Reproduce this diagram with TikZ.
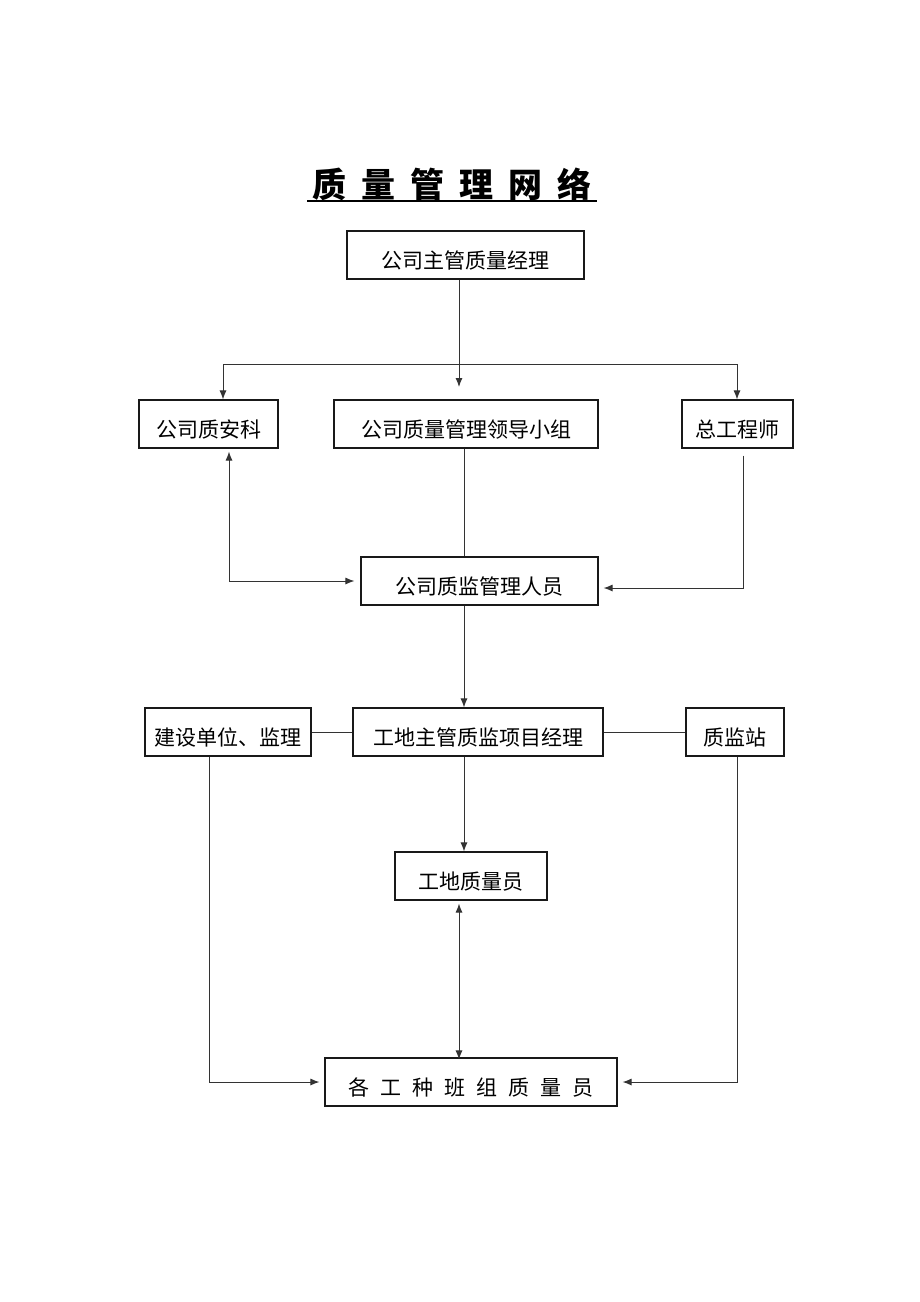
\documentclass[tikz,border=0pt]{standalone}
\usepackage{fontspec}
\setmainfont{Noto Sans CJK SC}
\usetikzlibrary{arrows.meta,calc}
\tikzset{>={Latex[length=9pt,width=7pt]}}
\newcommand{\tgap}{\hspace{15pt}}
\newcommand{\fgap}{\hspace{11pt}}

\begin{document}
\begin{tikzpicture}[x=1pt,y=-1pt]
        % pixel grid of the page, y grows downwards
        \tikzstyle{box}=[draw=black!90, line width=1.1pt, inner sep=0pt, minimum height=48pt, text height=29pt, text depth=2pt, font=\fontsize{21}{24}\selectfont]
        \tikzstyle{link}=[black!80, line width=1pt]
        \useasboundingbox (0,0) rectangle (920,1302);
        \node[inner sep=0pt, font=\bfseries\fontsize{34}{40}\selectfont] (title) at (452,184) {质\tgap 量\tgap 管\tgap 理\tgap 网\tgap 络};
        \draw[line width=1.6pt] (307,201) -- (597,201);
        \node[box, minimum width=237pt] (A) at (465.5,255) {公司主管质量经理};
        \node[box, minimum width=139pt] (B1) at (208.5,424) {公司质安科};
        \node[box, minimum width=264pt] (B2) at (466,424) {公司质量管理领导小组};
        \node[box, minimum width=111pt] (B3) at (737.5,424) {总工程师};
        \node[box, minimum width=237pt] (C) at (479.5,581) {公司质监管理人员};
        \node[box, minimum width=166pt] (D1) at (228,732) {建设单位、监理};
        \node[box, minimum width=250pt] (D2) at (478,732) {工地主管质监项目经理};
        \node[box, minimum width=98pt] (D3) at (735,732) {质监站};
        \node[box, minimum width=152pt] (E) at (471,876) {工地质量员};
        \node[box, minimum width=292pt] (F) at (471,1082) {各\fgap 工\fgap 种\fgap 班\fgap 组\fgap 质\fgap 量\fgap 员};
        % helper points
        \coordinate (tl) at (223,364);
        \coordinate (tm) at (459,364);
        \coordinate (tr) at (737,364);
        \coordinate (tip) at (459,387);
        \coordinate (cl) at (229,581);
        \coordinate (cr) at (743,588);
        \coordinate (spine) at (464,650);
        \coordinate (ef) at (459,980);
        \coordinate (bl) at (209,1082);
        \coordinate (br) at (737,1082);
        % top level
        \draw[link] (A.south -| tm) -- (tm);
        \draw[link, ->] (tm) -- (tip);
        \draw[link, <->] (B1.north -| tl) -- (tl) -- (tr) -- (B3.north -| tr);
        % company level
        \draw[link, <->] ($(B1.south -| cl)+(0,3)$) -- (cl) -- ($(C.west)+(-6,0)$);
        \draw[link] (B2.south -| spine) -- (C.north -| spine);
        \draw[link, ->] ($(B3.south -| cr)+(0,7)$) -- (cr) -- ($(C.east |- cr)+(5,0)$);
        \draw[link, ->] (C.south -| spine) -- (D2.north -| spine);
        % site level
        \draw[link] (D1.east) -- (D2.west);
        \draw[link] (D2.east) -- (D3.west);
        \draw[link, ->] (D2.south -| spine) -- (E.north -| spine);
        \draw[link, <->] ($(E.south -| ef)+(0,3)$) -- ($(F.north -| ef)+(0,2)$);
        \draw[link, ->] (D1.south -| bl) -- (bl) -- ($(F.west)+(-5,0)$);
        \draw[link, ->] (D3.south -| br) -- (br) -- ($(F.east)+(5,0)$);
\end{tikzpicture}
\end{document}
